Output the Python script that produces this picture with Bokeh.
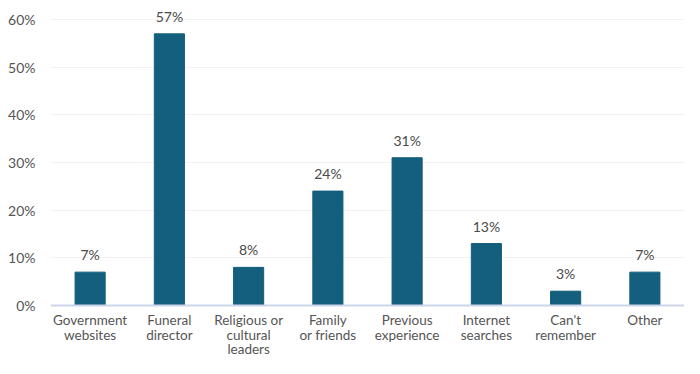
from bokeh.plotting import figure
from bokeh.models import (ColumnDataSource, FactorRange, Range1d, NumeralTickFormatter,
                          FixedTicker, Span)
from bokeh.core.properties import value
from bokeh.embed import file_html
from bokeh.resources import INLINE

categories = ["Government\nwebsites", "Funeral\ndirector", "Religious or\ncultural\nleaders",
              "Family\nor friends", "Previous\nexperience", "Internet\nsearches",
              "Can't\nremember", "Other"]
values = [7, 57, 8, 24, 31, 13, 3, 7]
y_ticks = [0, 10, 20, 30, 40, 50, 60]

FONT = "Lato"
BAR = "#135f7d"

src = ColumnDataSource(dict(cat=categories, val=values, lab=[f"{v}%" for v in values],
                            zero=[0] * len(values)))

p = figure(x_range=FactorRange(*categories, range_padding=0), y_range=Range1d(-11.12, 63.78),
           width=684, height=358, output_backend="svg", toolbar_location=None,
           min_border_left=50, min_border_right=0, min_border_top=1, min_border_bottom=0)
p.outline_line_color = None
p.background_fill_color = "white"
p.border_fill_color = "white"

p.vbar(x="cat", top="val", width=0.38, color=BAR, source=src)
p.text(x="cat", y="val", text="lab", source=src, text_align="center", text_baseline="bottom",
       y_offset=-9, text_font=value(FONT), text_font_size="14px", text_color="#4a4a4a")

# category labels under the baseline
p.text(x="cat", y="zero", text="cat", source=src, y_offset=7,
       text_align="center", text_baseline="top", text_font=value(FONT),
       text_font_size="13.5px", text_line_height=0.9, text_color="#555555")

p.add_layout(Span(location=0, dimension="width", line_color="#ccd6eb", line_width=2))

p.xaxis.visible = False
p.xgrid.grid_line_color = None
p.ygrid.grid_line_color = "#f2f2f2"
p.ygrid.ticker = FixedTicker(ticks=y_ticks[1:])

p.yaxis.ticker = FixedTicker(ticks=y_ticks)
p.yaxis.formatter = NumeralTickFormatter(format="0")
p.yaxis.major_label_overrides = {t: f"{t}%" for t in y_ticks}
p.yaxis.axis_line_color = None
p.yaxis.major_tick_line_color = None
p.yaxis.minor_tick_line_color = None
p.yaxis.major_label_standoff = 9
p.yaxis.major_label_text_font = FONT
p.yaxis.major_label_text_font_size = "14px"
p.yaxis.major_label_text_color = "#555555"

open("out.html", "w").write(file_html(p, INLINE))
